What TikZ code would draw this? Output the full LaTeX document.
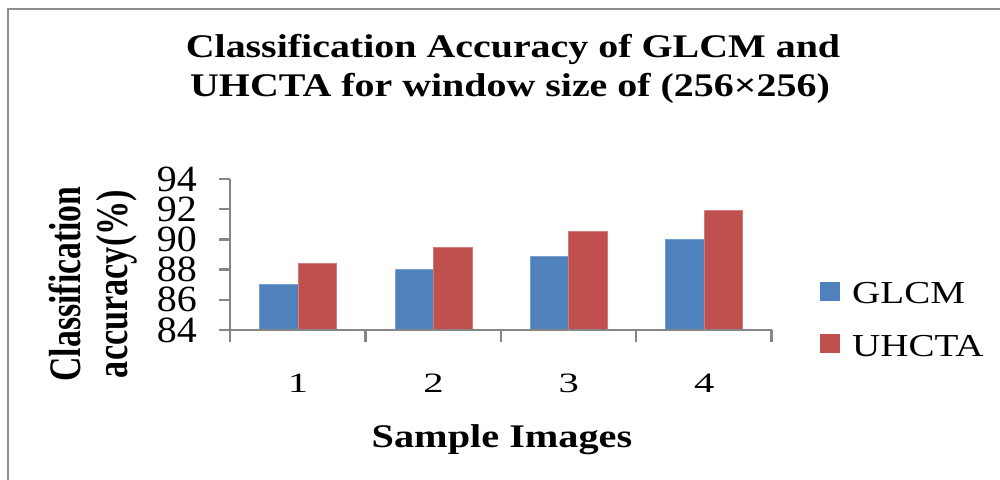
\documentclass[tikz,border=0pt]{standalone}
\usepackage{fontspec}
\usepackage{graphicx}
\setmainfont{Liberation Serif}
\definecolor{glcmblue}{HTML}{4F81BD}
\definecolor{uhctared}{HTML}{C0504D}
\definecolor{axisgray}{HTML}{868686}
\definecolor{framegray}{HTML}{8E8E8E}
\begin{document}
\begin{tikzpicture}[x=1pt,y=1pt,
  framestyle/.style={draw=framegray, line width=2pt},
  axisline/.style={draw=axisgray, line width=2.3pt},
  glcmbar/.style={fill=glcmblue, draw=glcmblue!75!white, line width=0.7pt},
  uhctabar/.style={fill=uhctared, draw=uhctared!75!white, line width=0.7pt},
  titletext/.style={inner sep=0pt, anchor=base, font=\fontsize{33}{33}\selectfont\bfseries},
  ylabtext/.style={inner sep=0pt, anchor=base, rotate=90, font=\fontsize{45}{45}\selectfont\bfseries},
  yticktext/.style={inner sep=0pt, anchor=east, font=\fontsize{37}{37}\selectfont},
  xticktext/.style={inner sep=0pt, anchor=base, font=\fontsize{28}{28}\selectfont},
  xlabtext/.style={inner sep=0pt, anchor=base, font=\fontsize{33}{33}\selectfont\bfseries},
  legtext/.style={inner sep=0pt, anchor=base west, font=\fontsize{32}{32}\selectfont},
  legkey/.style={minimum width=20pt, minimum height=19pt, inner sep=0pt, anchor=south west}]

\useasboundingbox (0,0) rectangle (1000,479);
\clip (0,0) rectangle (1000,479);
\fill[white] (0,0) rectangle (1000,479);

% chart area frame (runs past the right and bottom edges)
\draw[framestyle] (8,-20) -- (8,470) -- (1020,470);

% title
\node[titletext] (title1) at (513,421.3) {\scalebox{1.21}[1]{Classification Accuracy of GLCM and}};
\node[titletext] (title2) at (510,382.3) {\scalebox{1.21}[1]{UHCTA for window size of (256×256)}};

% bars: value v sits at 149 + (v-84)*15.1
\foreach \i/\g/\u in {0/87/88.4, 1/88/89.5, 2/88.9/90.5, 3/90/91.9}{
  \pgfmathsetmacro{\cx}{298+135.4*\i}
  \filldraw[glcmbar] ({\cx-38.5},149) rectangle (\cx,{149+(\g-84)*15.1});
  \filldraw[uhctabar] (\cx,149) rectangle ({\cx+38.5},{149+(\u-84)*15.1});
}

% axes and ticks
\coordinate (origin) at (230,149);
\coordinate (ytop) at (230,300);
\coordinate (xend) at (771.6,149);
\draw[axisline] (origin) -- (ytop);
\draw[axisline] (origin) -- (xend);
\foreach \v in {84,86,...,94}{
  \draw[axisline] (219,{149+(\v-84)*15.1}) -- (230,{149+(\v-84)*15.1});
  \node[yticktext] (ytick\v) at (197,{149+(\v-84)*15.1}) {\scalebox{1.08}[1]{\v}};
}
\foreach \k in {0,...,4}{
  \draw[axisline] ({230+135.4*\k},149) -- ({230+135.4*\k},137);
}
\foreach \k in {1,...,4}{
  \node[xticktext] (xtick\k) at ({298+135.4*(\k-1)},86) {\scalebox{1.45}[1]{\k}};
}

% axis titles
\node[ylabtext] (ylab1) at (80,195) {\scalebox{0.75}[1]{Classification}};
\node[ylabtext] (ylab2) at (127,195) {\scalebox{0.76}[1]{accuracy(\%)}};
\node[xlabtext] (xlab) at (502,32) {\scalebox{1.22}[1]{Sample Images}};

% legend
\node[legkey, fill=glcmblue] (keyglcm) at (820,178) {};
\node[legkey, fill=uhctared] (keyuhcta) at (820,126) {};
\node[legtext] (legglcm) at (852,175) {\scalebox{1.22}[1]{GLCM}};
\node[legtext] (leguhcta) at (852,122) {\scalebox{1.22}[1]{UHCTA}};
\end{tikzpicture}
\end{document}
